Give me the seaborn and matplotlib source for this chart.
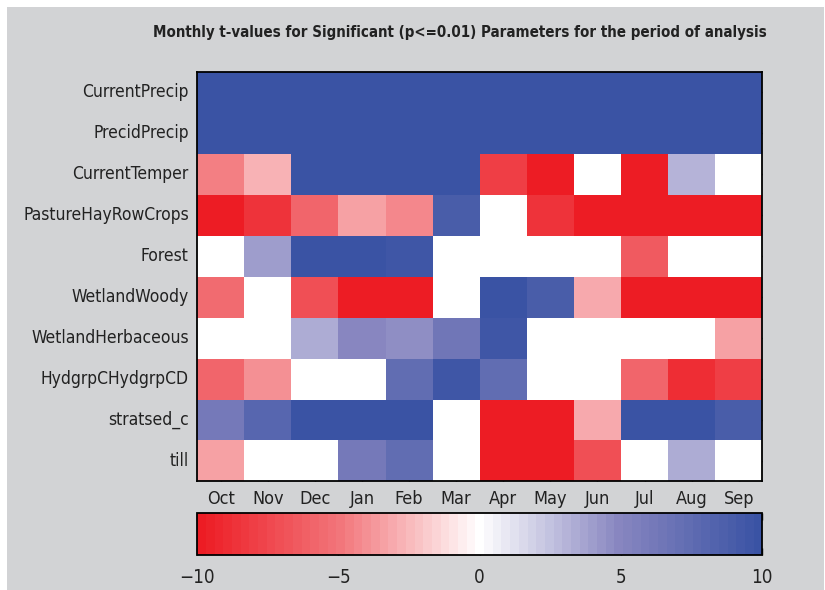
import matplotlib
matplotlib.use("Agg")
import matplotlib.pyplot as plt
from matplotlib.colors import LinearSegmentedColormap
from matplotlib.patches import Rectangle
import seaborn as sns
import pandas as pd
import numpy as np

# datos: t-valores mensuales
months = ["Oct", "Nov", "Dec", "Jan", "Feb", "Mar", "Apr", "May", "Jun", "Jul", "Aug", "Sep"]
params = ["CurrentPrecip", "PrecidPrecip", "CurrentTemper", "PastureHayRowCrops", "Forest",
          "WetlandWoody", "WetlandHerbaceous", "HydgrpCHydgrpCD", "stratsed_c", "till"]

current_precip = [10, 10, 10, 10, 10, 10, 10, 10, 10, 10, 10, 10]
precid_precip = [10, 10, 10, 10, 10, 10, 10, 10, 10, 10, 10, 10]
current_temper = [-4.5, -2.8, 10, 10, 10, 10, -8, -10, 0, -10, 3, 0]
pasture = [-10, -8.5, -6, -3.3, -4.3, 9, 0, -8.5, -10, -10, -10, -10]
forest = [0, 4, 10, 10, 9.5, 0, 0, 0, 0, -6.5, 0, 0]
wetland_woody = [-5.5, 0, -7, -10, -10, 0, 10, 9, -3, -10, -10, -10]
wetland_herb = [0, 0, 3.5, 5, 4.5, 6.5, 9.5, 0, 0, 0, 0, -3.3]
hydgrp = [-6, -4, 0, 0, 7.5, 9.5, 7.5, 0, 0, -6, -9, -8]
stratsed = [6, 8, 10, 10, 10, 0, -10, -10, -3, 10, 10, 9]
till = [-3.3, 0, 0, 6, 7.5, 0, -10, -10, -7, 0, 3.5, 0]

df = pd.DataFrame([current_precip, precid_precip, current_temper, pasture, forest,
                   wetland_woody, wetland_herb, hydgrp, stratsed, till],
                  index=params, columns=months)

sns.set_theme(style="white")
plt.rcParams['font.family'] = ['DejaVu Sans']
plt.rcParams['font.stretch'] = 'condensed'

bg = '#d2d3d5'
txt = '#222222'
cmap = LinearSegmentedColormap.from_list(
    "rwb", [(0.0, "#ed1c24"), (0.25, "#f2767b"), (0.5, "#ffffff"),
            (0.75, "#8886c0"), (1.0, "#3a53a4")], N=65)

fig = plt.figure(figsize=(8.25, 5.9), dpi=100, facecolor='white')
fig.patches.append(Rectangle((7 / 825, 0), 817 / 825, 583 / 590, transform=fig.transFigure,
                             facecolor=bg, edgecolor='none', zorder=-10))
ax = fig.add_axes([0.239, 0.184, 0.685, 0.694])
cax = fig.add_axes([0.239, 0.060, 0.685, 0.071])

sns.heatmap(df, ax=ax, cmap=cmap, vmin=-10, vmax=10, cbar_ax=cax,
            cbar_kws={'orientation': 'horizontal', 'ticks': [-10, -5, 0, 5, 10]})

for s in ax.spines.values():
    s.set_visible(True)
    s.set_color('black')
    s.set_linewidth(1.3)
ax.tick_params(direction='in', length=4, width=1, color='black',
               top=True, right=True, bottom=True, left=True,
               labeltop=False, labelright=False, pad=6)
ax.set_yticklabels(params, rotation=0, fontsize=12.5, color=txt)
ax.set_xticklabels(months, rotation=0, fontsize=13, color=txt)
ax.set_xlabel("")
ax.set_ylabel("")

cb = ax.collections[0].colorbar
cb.outline.set_edgecolor('black')
cb.outline.set_linewidth(1.3)
cax.tick_params(direction='in', length=5, width=1, color='black', top=True, bottom=True,
                labelsize=13.5, labelcolor=txt, pad=10)

fig.text(0.558, 0.945, "Monthly t-values for Significant (p<=0.01) Parameters for the period of analysis",
         ha='center', va='center', fontsize=10.8, fontweight='bold', color=txt)

fig.savefig("out.png", facecolor='white')
